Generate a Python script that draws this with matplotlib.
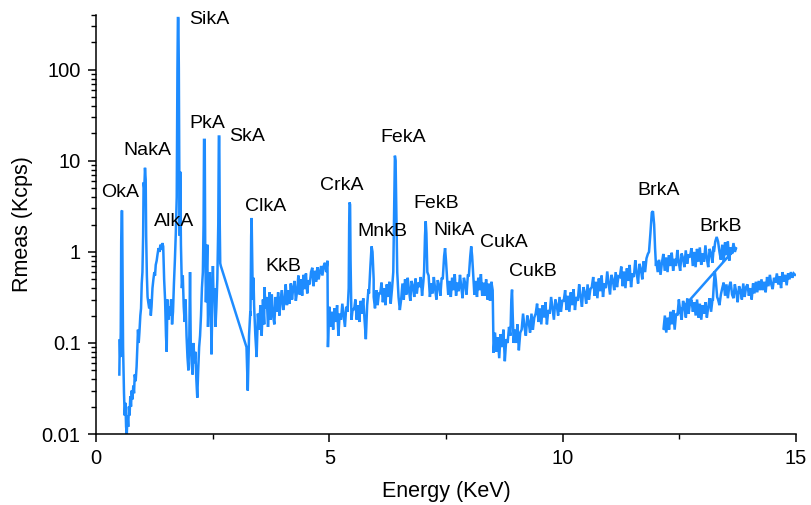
import numpy as np
import matplotlib
matplotlib.use("Agg")
import matplotlib.pyplot as plt
from matplotlib.ticker import FixedLocator, LogLocator, FuncFormatter, NullFormatter

# ---------------- data (energy in keV, rate in Kcps) ----------------
# Segment 1 : 0.5 - 2.68 keV (explicit channels)
seg1_energy = [0.500, 0.510, 0.520, 0.530, 0.540, 0.550, 0.560, 0.570, 0.580, 0.590,
               0.600, 0.615, 0.630, 0.645, 0.660, 0.675, 0.690, 0.705, 0.720, 0.735,
               0.750, 0.765, 0.780, 0.800, 0.815, 0.830, 0.850, 0.870, 0.885, 0.900,
               0.915, 0.930, 0.950, 0.965, 0.980, 0.995, 1.010, 1.020, 1.035, 1.050,
               1.065, 1.075, 1.090, 1.105, 1.120, 1.140, 1.160, 1.175, 1.190, 1.210,
               1.230, 1.250, 1.265, 1.280, 1.300, 1.320, 1.340, 1.360, 1.380, 1.400,
               1.420, 1.440, 1.460, 1.480, 1.500, 1.515, 1.530, 1.550, 1.570, 1.590,
               1.610, 1.630, 1.650, 1.670, 1.690, 1.710, 1.730, 1.745, 1.755, 1.765,
               1.775, 1.785, 1.795, 1.805, 1.820, 1.840, 1.860, 1.880, 1.900, 1.920,
               1.940, 1.960, 1.980, 2.000, 2.015, 2.030, 2.050, 2.070, 2.090, 2.110,
               2.130, 2.150, 2.170, 2.190, 2.210, 2.230, 2.250, 2.270, 2.290, 2.305,
               2.315, 2.330, 2.340, 2.355, 2.370, 2.385, 2.400, 2.420, 2.440, 2.460,
               2.475, 2.490, 2.505, 2.520, 2.540, 2.560, 2.580, 2.600, 2.620, 2.632,
               2.642, 2.652, 2.662, 2.675]
seg1_rate = [0.045, 0.11, 0.07, 0.13, 1.3, 2.8, 2.85, 0.5, 0.09, 0.05,
             0.028, 0.016, 0.022, 0.012, 0.010, 0.016, 0.012, 0.020, 0.016, 0.026,
             0.020, 0.030, 0.024, 0.034, 0.028, 0.045, 0.038, 0.055, 0.090, 0.14,
             0.10, 0.13, 0.20, 0.24, 0.45, 0.60, 1.5, 5.8, 5.0, 8.4,
             6.2, 1.5, 0.55, 0.32, 0.28, 0.24, 0.30, 0.20, 0.25, 0.40,
             0.50, 0.60, 0.55, 0.72, 0.80, 0.95, 1.1, 1.0, 1.2, 1.05,
             1.25, 1.15, 0.50, 0.30, 0.12, 0.08, 0.30, 0.18, 0.25, 0.20,
             0.30, 0.16, 0.22, 0.45, 0.8, 1.6, 4.0, 100, 370, 370,
             105, 8.0, 1.5, 7.6, 1.2, 0.40, 0.55, 0.25, 0.17, 0.30,
             0.12, 0.07, 0.05, 0.12, 0.60, 0.10, 0.06, 0.045, 0.10, 0.06,
             0.08, 0.04, 0.025, 0.05, 0.09, 0.12, 0.20, 0.40, 0.60, 2.0,
             17, 17, 1.2, 0.28, 0.60, 1.2, 0.15, 0.35, 0.60, 0.30,
             0.075, 0.25, 0.7, 0.30, 0.40, 0.15, 0.25, 0.50, 2.0, 18.5,
             18.5, 2.0, 0.75, 0.70]

# Segment 2 : 3.22 - 4.96 keV (background channels + peaks)
seg2_range = (3.225, 4.96)
seg2_rate = [0.09, 0.03, 0.12, 0.22, 0.09, 0.19, 0.26, 0.12, 0.07, 0.21,
             0.14, 0.26, 0.12, 0.30, 0.16, 0.24, 0.32, 0.15, 0.27, 0.18,
             0.34, 0.20, 0.16, 0.32, 0.22, 0.36, 0.20, 0.30, 0.38, 0.23,
             0.28, 0.44, 0.26, 0.38, 0.27, 0.45, 0.30, 0.41, 0.48, 0.29,
             0.37, 0.55, 0.34, 0.50, 0.33, 0.56, 0.39, 0.58, 0.35, 0.49,
             0.44, 0.60, 0.67, 0.42, 0.62, 0.47, 0.68, 0.50, 0.60, 0.70,
             0.55, 0.70, 0.76, 0.60, 0.80]
peak_cl_e = [3.310, 3.325, 3.335, 3.345, 3.360, 3.375]
peak_cl_r = [0.20, 1.5, 2.36, 1.0, 0.30, 0.52]
peak_k1_e = [3.610]
peak_k1_r = [0.41]
peak_k2_e = [3.720]
peak_k2_r = [0.36]

# Segment 3 : 4.97 - 8.50 keV
seg3_range = (4.97, 8.50)
seg3_rate = [0.09, 0.25, 0.15, 0.22, 0.14, 0.24, 0.17, 0.26, 0.12, 0.21,
             0.18, 0.27, 0.20, 0.15, 0.25, 0.22, 0.17, 0.27, 0.18, 0.24,
             0.23, 0.30, 0.18, 0.26, 0.17, 0.29, 0.21, 0.31, 0.18, 0.11,
             0.26, 0.39, 0.28, 0.22, 0.36, 0.32, 0.24, 0.38, 0.26, 0.35,
             0.35, 0.46, 0.28, 0.40, 0.26, 0.44, 0.32, 0.47, 0.27, 0.39,
             0.42, 0.50, 0.52, 0.46, 0.32, 0.23, 0.30, 0.45, 0.30, 0.50,
             0.34, 0.52, 0.38, 0.29, 0.48, 0.42, 0.32, 0.51, 0.35, 0.46,
             0.41, 0.53, 0.33, 0.47, 0.31, 0.51, 0.37, 0.55, 0.32, 0.45,
             0.35, 0.53, 0.39, 0.30, 0.49, 0.43, 0.33, 0.52, 0.36, 0.47,
             0.42, 0.55, 0.34, 0.48, 0.32, 0.52, 0.38, 0.57, 0.33, 0.46,
             0.37, 0.56, 0.41, 0.31, 0.52, 0.45, 0.34, 0.55, 0.38, 0.49,
             0.42, 0.55, 0.34, 0.48, 0.32, 0.52, 0.38, 0.57, 0.33, 0.46,
             0.33, 0.50, 0.30, 0.45, 0.29, 0.47, 0.38]
peak_cr_e = [5.415, 5.425, 5.435, 5.445, 5.455]
peak_cr_r = [0.40, 2.0, 3.5, 3.3, 0.8]
peak_mn_e = [5.850, 5.880, 5.905, 5.925, 5.950]
peak_mn_r = [0.35, 0.70, 1.15, 1.0, 0.50]
peak_fea_e = [6.370, 6.390, 6.405, 6.420, 6.435, 6.455]
peak_fea_r = [0.60, 3.0, 11.4, 10.0, 3.0, 0.60]
peak_feb_e = [7.030, 7.050, 7.065, 7.080, 7.100]
peak_feb_r = [0.60, 1.5, 2.17, 1.6, 0.60]
peak_ni_e = [7.430, 7.460, 7.480, 7.500, 7.530]
peak_ni_r = [0.50, 0.90, 1.1, 0.80, 0.45]
peak_cua_e = [7.990, 8.020, 8.040, 8.060, 8.090]
peak_cua_r = [0.55, 0.90, 1.15, 0.90, 0.50]

# Segment 4 : 8.52 - 13.72 keV
seg4_range = (8.52, 13.72)
seg4_rate = [0.078, 0.13, 0.08, 0.115, 0.068, 0.125, 0.09, 0.14, 0.063, 0.11,
             0.10, 0.15, 0.09, 0.13, 0.086, 0.14, 0.10, 0.16, 0.083, 0.13,
             0.14, 0.21, 0.15, 0.12, 0.20, 0.17, 0.13, 0.21, 0.14, 0.19,
             0.21, 0.27, 0.17, 0.24, 0.16, 0.26, 0.19, 0.28, 0.16, 0.23,
             0.21, 0.32, 0.24, 0.18, 0.30, 0.26, 0.20, 0.32, 0.22, 0.29,
             0.29, 0.38, 0.23, 0.33, 0.22, 0.36, 0.26, 0.39, 0.23, 0.32,
             0.29, 0.44, 0.32, 0.25, 0.41, 0.36, 0.27, 0.44, 0.30, 0.39,
             0.41, 0.53, 0.33, 0.47, 0.31, 0.51, 0.37, 0.55, 0.32, 0.45,
             0.40, 0.61, 0.45, 0.34, 0.56, 0.49, 0.38, 0.60, 0.41, 0.54,
             0.53, 0.69, 0.42, 0.61, 0.40, 0.66, 0.48, 0.72, 0.41, 0.58,
             0.53, 0.81, 0.59, 0.45, 0.74, 0.65, 0.50, 0.79, 0.60, 0.85,
             0.95, 1.10, 1.50, 2.50, 2.60, 1.50, 0.80, 0.60, 0.82, 0.56,
             0.76, 0.95, 0.62, 0.87, 0.60, 0.92, 0.70, 0.98, 0.62, 0.84,
             0.70, 1.05, 0.77, 0.62, 0.96, 0.86, 0.68, 1.04, 0.74, 0.94,
             0.87, 1.10, 0.70, 1.00, 0.68, 1.08, 0.78, 1.12, 0.72, 0.96,
             0.78, 1.18, 0.85, 0.68, 1.08, 0.97, 0.76, 1.15, 1.20, 1.40,
             1.30, 1.05, 0.82, 1.20, 0.78, 1.27, 0.92, 1.30, 0.80, 1.12,
             0.95, 1.25, 1.00, 1.12]
peak_cub_e = [8.880, 8.900, 8.915, 8.930, 8.950]
peak_cub_r = [0.12, 0.30, 0.385, 0.20, 0.10]
peak_bra_e = [11.850, 11.880, 11.910, 11.935, 11.960, 11.980, 12.000]
peak_bra_r = [1.0, 1.6, 2.7, 2.8, 2.0, 1.1, 0.70]
peak_brb_e = [13.240, 13.270, 13.300, 13.330, 13.360]
peak_brb_r = [1.0, 1.3, 1.46, 1.3, 1.0]

# Segment 5 : 12.16 - 14.98 keV
seg5_range = (12.16, 14.98)
seg5_rate = [0.14, 0.20, 0.13, 0.19, 0.14, 0.22, 0.16, 0.23, 0.14, 0.21,
             0.20, 0.30, 0.22, 0.18, 0.29, 0.25, 0.19, 0.31, 0.21, 0.28,
             0.30, 0.22, 0.28, 0.20, 0.30, 0.19, 0.27, 0.18, 0.26, 0.21,
             0.28, 0.19, 0.25, 0.31, 0.22, 0.30, 0.45, 0.55, 0.40, 0.30,
             0.26, 0.34, 0.40, 0.46, 0.33, 0.44, 0.31, 0.42, 0.47, 0.34,
             0.31, 0.44, 0.36, 0.28, 0.42, 0.38, 0.30, 0.45, 0.32, 0.41,
             0.44, 0.33, 0.40, 0.30, 0.45, 0.35, 0.47, 0.36, 0.48, 0.38,
             0.50, 0.38, 0.47, 0.36, 0.53, 0.42, 0.56, 0.44, 0.39, 0.52,
             0.46, 0.58, 0.44, 0.54, 0.40, 0.60, 0.47, 0.56, 0.43, 0.58,
             0.50, 0.60, 0.52, 0.58, 0.56]
peak_br5_e = [13.220, 13.240, 13.260, 13.280, 13.310]
peak_br5_r = [0.30, 0.45, 0.61, 0.50, 0.32]

# Peak labels
label_text = ["OkA", "NakA", "AlkA", "SikA", "PkA", "SkA", "ClkA", "KkB", "CrkA",
              "MnkB", "FekA", "FekB", "NikA", "CukA", "CukB", "BrkA", "BrkB"]
label_energy = [0.514, 1.093, 1.671, 2.421, 2.378, 3.235, 3.643, 4.007, 5.271,
                6.128, 6.578, 7.285, 7.671, 8.743, 9.364, 12.063, 13.392]
label_rate = [4.48, 12.98, 2.15, 357, 25.7, 18.5, 3.15, 0.69, 5.35,
              1.67, 18.0, 3.40, 1.71, 1.27, 0.61, 4.72, 1.90]


def build_segment(e_range, base_rate, peaks):
    e = np.linspace(e_range[0], e_range[1], len(base_rate))
    r = np.asarray(base_rate, dtype=float)
    keep = np.ones(len(e), dtype=bool)
    pe_all, pr_all = [], []
    for pe, pr in peaks:
        keep &= ~((e > min(pe)) & (e < max(pe)))
        pe_all += list(pe)
        pr_all += list(pr)
    E = np.concatenate([e[keep], pe_all])
    R = np.concatenate([r[keep], pr_all])
    order = np.argsort(E, kind="stable")
    return E[order], R[order]


s2e, s2r = build_segment(seg2_range, seg2_rate,
                         [(peak_cl_e, peak_cl_r), (peak_k1_e, peak_k1_r), (peak_k2_e, peak_k2_r)])
s3e, s3r = build_segment(seg3_range, seg3_rate,
                         [(peak_cr_e, peak_cr_r), (peak_mn_e, peak_mn_r), (peak_fea_e, peak_fea_r),
                          (peak_feb_e, peak_feb_r), (peak_ni_e, peak_ni_r), (peak_cua_e, peak_cua_r)])
s4e, s4r = build_segment(seg4_range, seg4_rate,
                         [(peak_cub_e, peak_cub_r), (peak_bra_e, peak_bra_r), (peak_brb_e, peak_brb_r)])
s5e, s5r = build_segment(seg5_range, seg5_rate, [(peak_br5_e, peak_br5_r)])

energy = np.concatenate([seg1_energy, s2e, s3e, s4e, s5e])
rate = np.concatenate([seg1_rate, s2r, s3r, s4r, s5r])

# ---------------- plot ----------------
plt.rcParams["font.family"] = ["Liberation Sans", "DejaVu Sans"]
fig = plt.figure(figsize=(8.11, 5.05), dpi=100)
ax = fig.add_axes([96 / 811, 1 - 434 / 505, 700 / 811, 419 / 505])

ax.plot(energy, rate, color="#1E8CFF", lw=1.8, solid_joinstyle="miter")

ax.set_yscale("log")
ax.set_xlim(0, 15)
ax.set_ylim(0.01, 400)

for t, e, r in zip(label_text, label_energy, label_rate):
    ax.text(e, r, t, ha="center", va="center", fontsize=14, color="black")

ax.xaxis.set_major_locator(FixedLocator([0, 5, 10, 15]))
ax.xaxis.set_minor_locator(FixedLocator([2.5, 7.5, 12.5]))
ax.yaxis.set_major_locator(FixedLocator([0.01, 0.1, 1, 10, 100]))
ax.yaxis.set_minor_locator(LogLocator(base=10, subs=np.arange(2, 10)))
ax.yaxis.set_major_formatter(FuncFormatter(lambda v, p: "%g" % v))
ax.yaxis.set_minor_formatter(NullFormatter())
ax.xaxis.set_major_formatter(FuncFormatter(lambda v, p: "%g" % v))

for s in ["top", "right"]:
    ax.spines[s].set_visible(False)
for s in ["left", "bottom"]:
    ax.spines[s].set_linewidth(1.1)

ax.tick_params(which="major", direction="out", length=6, width=1.1, labelsize=14.5, pad=5)
ax.tick_params(which="minor", direction="out", length=3.5, width=1.0)

ax.set_xlabel("Energy (KeV)", fontsize=15.5, labelpad=9)
ax.set_ylabel("Rmeas (Kcps)", fontsize=15.5, labelpad=6)

fig.savefig("out.png", dpi=100, facecolor="white")
